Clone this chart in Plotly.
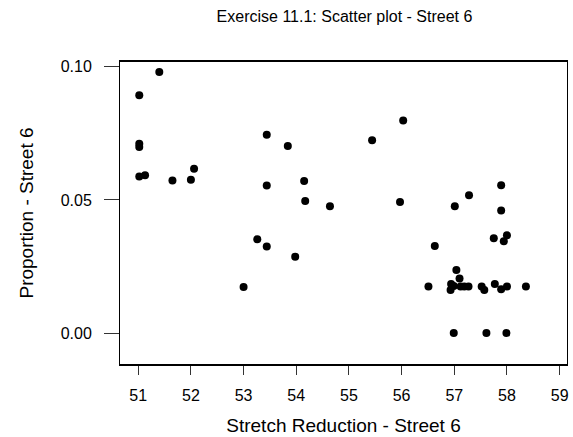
import plotly.graph_objects as go

# Stretch reduction (x) and proportion (y) for Street 6
stretch = [
    51.40, 51.02, 51.02, 51.02, 51.02, 51.13, 51.65, 52.00, 52.06,
    53.44, 53.84, 55.44, 53.44, 54.15, 54.17, 54.64, 53.26, 53.44,
    53.98, 53.00, 56.03, 55.97, 57.01, 57.28, 57.89, 57.89,
    57.75, 58.00, 57.94, 56.63,
    56.51, 57.04, 57.10, 56.94, 56.93, 56.99, 57.12, 57.19, 57.27,
    57.52, 57.57, 57.77, 57.89, 58.00, 58.36,
    56.99, 57.61, 57.99,
]
proportion = [
    0.0980, 0.0893, 0.0711, 0.0699, 0.0588, 0.0593, 0.0573, 0.0576, 0.0617,
    0.0745, 0.0703, 0.0724, 0.0554, 0.0571, 0.0496, 0.0476, 0.0352, 0.0325,
    0.0287, 0.0173, 0.0798, 0.0492, 0.0476, 0.0518, 0.0555, 0.0460,
    0.0356, 0.0367, 0.0345, 0.0327,
    0.0175, 0.0237, 0.0205, 0.0184, 0.0162, 0.0177, 0.0175, 0.0175, 0.0175,
    0.0175, 0.0162, 0.0184, 0.0165, 0.0175, 0.0175,
    0.0, 0.0, 0.0,
]
x_ticks = [51, 52, 53, 54, 55, 56, 57, 58, 59]
y_ticks = [0.0, 0.05, 0.10]
y_tick_text = ["0.00", "0.05", "0.10"]

FONT = "Liberation Sans, Arial, sans-serif"
MAIN_SIZE = 16
AXIS_TITLE_SIZE = 19
TICK_SIZE = 16

fig = go.Figure(
    go.Scatter(
        x=stretch,
        y=proportion,
        mode="markers",
        marker=dict(color="black", size=8, line=dict(width=0)),
        hoverinfo="x+y",
    )
)

fig.update_layout(
    width=573,
    height=437,
    margin=dict(l=120, r=4, t=62, b=72),
    paper_bgcolor="white",
    plot_bgcolor="white",
    showlegend=False,
    font=dict(family=FONT, color="black"),
    title=dict(
        text="Exercise 11.1: Scatter plot - Street 6",
        x=(120 + 569) / 2 / 573,
        xanchor="center",
        y=1 - 16 / 437,
        yanchor="middle",
        font=dict(size=MAIN_SIZE, family=FONT, color="black"),
    ),
)

fig.update_xaxes(
    range=[50.654, 59.14],
    tickvals=x_ticks,
    ticktext=[str(v) for v in x_ticks],
    ticks="outside",
    ticklen=9,
    tickwidth=1,
    tickcolor="#333333",
    tickfont=dict(size=TICK_SIZE, family=FONT, color="black"),
    ticklabelstandoff=7,
    showgrid=False,
    zeroline=False,
    showline=True,
    linecolor="black",
    linewidth=1.5,
    mirror=True,
    title=dict(
        text="Stretch Reduction - Street 6",
        font=dict(size=AXIS_TITLE_SIZE, family=FONT, color="black"),
        standoff=16,
    ),
)

fig.update_yaxes(
    range=[-0.0116, 0.1018],
    tickvals=y_ticks,
    ticktext=y_tick_text,
    ticks="outside",
    ticklen=15,
    tickwidth=1,
    tickcolor="#333333",
    tickfont=dict(size=TICK_SIZE, family=FONT, color="black"),
    ticklabelstandoff=9,
    showgrid=False,
    zeroline=False,
    showline=True,
    linecolor="black",
    linewidth=1,
    mirror=True,
    title=dict(
        text="Proportion - Street 6",
        font=dict(size=AXIS_TITLE_SIZE, family=FONT, color="black"),
        standoff=22,
    ),
)

fig.write_html("out.html")
